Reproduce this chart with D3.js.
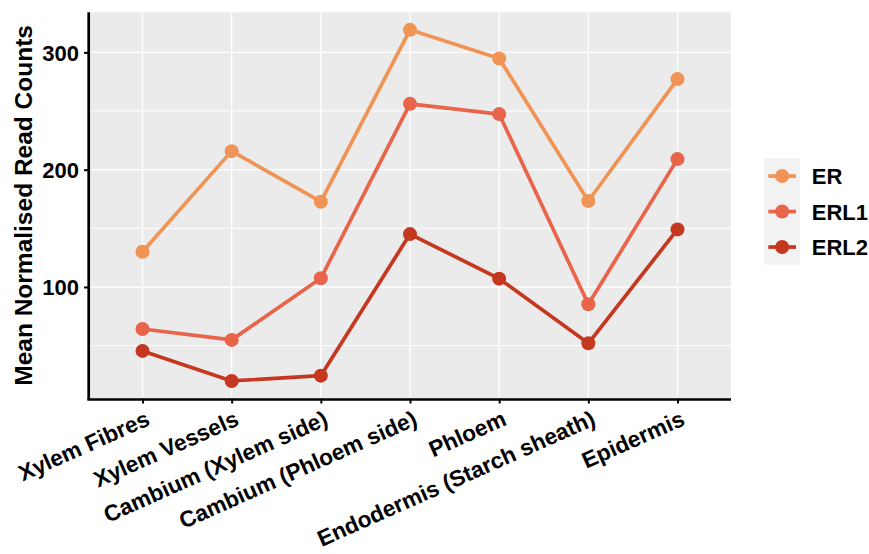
<!DOCTYPE html>
<html>
<head>
<meta charset="utf-8">
<script src="https://cdn.jsdelivr.net/npm/d3@7"></script>
<style>
  html, body { margin: 0; padding: 0; background: #ffffff; }
  svg { display: block; font-family: "Liberation Sans", Arial, Helvetica, sans-serif; }
</style>
</head>
<body>
<svg id="chart" width="869" height="554"></svg>
<script>
// Tissue categories along the x axis
const categories = [
  "Xylem Fibres",
  "Xylem Vessels",
  "Cambium (Xylem side)",
  "Cambium (Phloem side)",
  "Phloem",
  "Endodermis (Starch sheath)",
  "Epidermis"
];

// Gene names and their mean normalised read counts per tissue
const seriesNames = ["ER", "ERL1", "ERL2"];
const erValues   = [130.1, 215.8, 172.7, 319.2, 294.8, 173.3, 277.2];
const erl1Values = [64.2, 54.9, 107.4, 256.1, 247.4, 85.3, 209.0];
const erl2Values = [45.5, 19.9, 24.4, 145.1, 107.1, 52.0, 149.1];

// Axis ticks
const majorTicks = [100, 200, 300];
const minorTicks = [50, 150, 250];

const seriesColors = ["#F09456", "#E8644B", "#C5381F"];

const series = seriesNames.map((name, i) => ({
  name,
  color: seriesColors[i],
  values: [erValues, erl1Values, erl2Values][i].map((v, j) => ({ cat: categories[j], v }))
}));

const svg = d3.select("#chart");

const panel = { left: 89, right: 731, top: 12.3, bottom: 398.5 };
const axisFont = "22px";

const x = d3.scalePoint()
  .domain(categories)
  .range([panel.left, panel.right])
  .padding(0.6);

const allVals = erValues.concat(erl1Values, erl2Values);
const [vmin, vmax] = d3.extent(allVals);
const pad = (vmax - vmin) * 0.05;
const y = d3.scaleLinear()
  .domain([vmin - pad, vmax + pad])
  .range([panel.bottom, panel.top]);

// Panel background
svg.append("rect")
  .attr("x", panel.left).attr("y", panel.top)
  .attr("width", panel.right - panel.left)
  .attr("height", panel.bottom - panel.top)
  .attr("fill", "#EBEBEB");

// Grid lines
const grid = svg.append("g");
grid.selectAll(".minor").data(minorTicks).join("line")
  .attr("x1", panel.left).attr("x2", panel.right)
  .attr("y1", d => y(d)).attr("y2", d => y(d))
  .attr("stroke", "#ffffff").attr("stroke-width", 0.9);
grid.selectAll(".majorY").data(majorTicks).join("line")
  .attr("x1", panel.left).attr("x2", panel.right)
  .attr("y1", d => y(d)).attr("y2", d => y(d))
  .attr("stroke", "#ffffff").attr("stroke-width", 1.3);
grid.selectAll(".majorX").data(categories).join("line")
  .attr("x1", d => x(d)).attr("x2", d => x(d))
  .attr("y1", panel.top).attr("y2", panel.bottom)
  .attr("stroke", "#ffffff").attr("stroke-width", 1.3);

// Lines
const line = d3.line().x(d => x(d.cat)).y(d => y(d.v));
svg.append("g").selectAll("path").data(series).join("path")
  .attr("d", d => line(d.values))
  .attr("fill", "none")
  .attr("stroke", d => d.color)
  .attr("stroke-width", 3.7)
  .attr("stroke-linejoin", "round");

// Points
svg.append("g").selectAll("g").data(series).join("g")
  .attr("fill", d => d.color)
  .selectAll("circle").data(d => d.values).join("circle")
  .attr("cx", d => x(d.cat))
  .attr("cy", d => y(d.v))
  .attr("r", 7);

// Axes
const yAxis = d3.axisLeft(y).tickValues(majorTicks).tickSize(5).tickPadding(5);
const gy = svg.append("g")
  .attr("transform", `translate(${panel.left},0)`)
  .call(yAxis);
gy.select(".domain").remove();
gy.selectAll(".tick line").attr("stroke", "#000").attr("stroke-width", 2);
gy.selectAll(".tick text")
  .attr("fill", "#000")
  .style("font-size", axisFont)
  .style("font-weight", "bold")
  .attr("dy", "0.36em");

const xAxis = d3.axisBottom(x).tickSize(5).tickFormat("");
const gx = svg.append("g")
  .attr("transform", `translate(0,${panel.bottom})`)
  .call(xAxis);
gx.select(".domain").remove();
gx.selectAll(".tick line").attr("stroke", "#000").attr("stroke-width", 2);

// Rotated category labels
svg.append("g").selectAll("text").data(categories).join("text")
  .attr("transform", d => `translate(${x(d) + 2},${panel.bottom + 11}) rotate(-24)`)
  .attr("text-anchor", "end")
  .attr("dy", "0.72em")
  .style("font-size", "22.6px")
  .style("font-weight", "bold")
  .attr("fill", "#000")
  .text(d => d);

// Axis lines
svg.append("line")
  .attr("x1", panel.left - 0.3).attr("x2", panel.left - 0.3)
  .attr("y1", panel.top).attr("y2", panel.bottom + 1.3)
  .attr("stroke", "#000").attr("stroke-width", 2.7);
svg.append("line")
  .attr("x1", panel.left - 1.6).attr("x2", panel.right)
  .attr("y1", panel.bottom + 1).attr("y2", panel.bottom + 1)
  .attr("stroke", "#000").attr("stroke-width", 2.7);

// Y axis title
svg.append("text")
  .attr("transform", `translate(32,${(panel.top + panel.bottom) / 2}) rotate(-90)`)
  .attr("text-anchor", "middle")
  .style("font-size", "24.5px")
  .style("font-weight", "bold")
  .attr("fill", "#000")
  .text("Mean Normalised Read Counts");

// Legend
const legend = svg.append("g").attr("transform", "translate(764.3,158.3)");
const keyH = 35.5, keyW = 35.7;
legend.append("rect")
  .attr("width", keyW).attr("height", keyH * series.length)
  .attr("fill", "#F2F2F2");
const items = legend.selectAll(".item").data(series).join("g")
  .attr("transform", (d, i) => `translate(0,${i * keyH + keyH / 2})`);
items.append("line")
  .attr("x1", 4).attr("x2", keyW - 4)
  .attr("stroke", d => d.color).attr("stroke-width", 3.7);
items.append("circle")
  .attr("cx", keyW / 2).attr("r", 7)
  .attr("fill", d => d.color);
items.append("text")
  .attr("x", 47.5)
  .attr("dy", "0.38em")
  .style("font-size", axisFont)
  .style("font-weight", "bold")
  .attr("fill", "#000")
  .text(d => d.name);
</script>
</body>
</html>
